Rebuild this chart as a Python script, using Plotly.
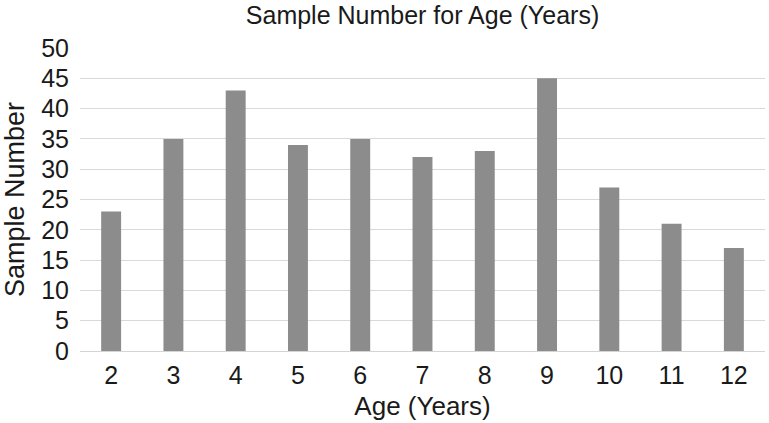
import plotly.graph_objects as go

ages = ["2", "3", "4", "5", "6", "7", "8", "9", "10", "11", "12"]
samples = [23, 35, 43, 34, 35, 32, 33, 45, 27, 21, 17]
y_ticks = [0, 5, 10, 15, 20, 25, 30, 35, 40, 45, 50]

fig = go.Figure(go.Bar(x=ages, y=samples, marker=dict(color="#8c8c8c", line=dict(width=0))))

font = "Liberation Sans, Arial, sans-serif"
fig.update_layout(
    width=769, height=423,
    margin=dict(l=80, r=4, t=48, b=72),
    paper_bgcolor="white", plot_bgcolor="white",
    bargap=0.68,
    showlegend=False,
    title=dict(text="Sample Number for Age (Years)", x=0.5, xanchor="center", xref="paper",
               y=0.963, yanchor="middle", font=dict(family=font, size=25, color="#1a1a1a")),
    font=dict(family=font, color="#1a1a1a"),
)
fig.update_xaxes(
    type="category", tickfont=dict(size=25), ticks="", showline=True,
    linecolor="#d4d4d4", linewidth=1, automargin=False, ticklabelstandoff=2,
    title=dict(text="Age (Years)", font=dict(size=26), standoff=8),
)
fig.update_yaxes(
    range=[0, 50], tickvals=y_ticks, tickfont=dict(size=25), ticks="",
    showgrid=True, gridcolor="#d9d9d9", gridwidth=1, zeroline=False,
    automargin=False, ticklabelstandoff=10,
    title=dict(text="Sample Number", font=dict(size=27), standoff=14),
)

fig.write_html("out.html", config={"displayModeBar": False},
               post_script="document.body.style.margin='0px';")
